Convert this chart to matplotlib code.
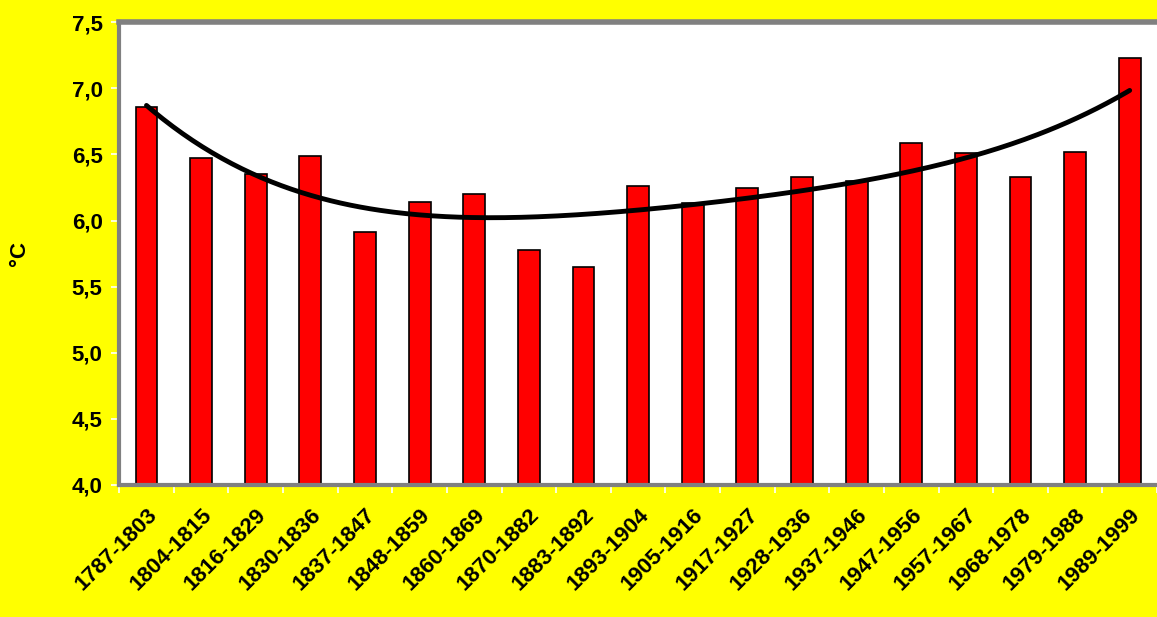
import matplotlib.pyplot as plt
import matplotlib.transforms as mtransforms
import numpy as np

plt.rcParams['font.family'] = ['Liberation Sans', 'DejaVu Sans']
plt.rcParams['font.weight'] = 'bold'

periods = ['1787-1803', '1804-1815', '1816-1829', '1830-1836', '1837-1847',
           '1848-1859', '1860-1869', '1870-1882', '1883-1892', '1893-1904',
           '1905-1916', '1917-1927', '1928-1936', '1937-1946', '1947-1956',
           '1957-1967', '1968-1978', '1979-1988', '1989-1999']
temps = [6.86, 6.47, 6.35, 6.49, 5.91, 6.14, 6.20, 5.78, 5.65, 6.26,
         6.13, 6.245, 6.33, 6.30, 6.585, 6.51, 6.33, 6.52, 7.23]

x = np.arange(len(periods))
# 4th order polynomial trend line (like the spreadsheet trendline)
coef = np.polyfit(x, temps, 4)
xs = np.linspace(0, len(periods) - 1, 300)
trend = np.polyval(coef, xs)

fig = plt.figure(figsize=(11.57, 6.17), dpi=100, facecolor='#ffff00')
ax = fig.add_axes([0.103, 0.214, 0.897, 0.750])
ax.set_facecolor('white')

ax.bar(x, temps, width=0.4, color='#ff0000', edgecolor='black', linewidth=1.2, zorder=2)
ax.plot(xs, trend, color='black', linewidth=3.5, solid_capstyle='round', zorder=3)

ax.set_ylim(4.0, 7.5)
ax.set_xlim(-0.5, len(periods) - 0.5)
ticks = np.arange(4.0, 7.51, 0.5)
ax.set_yticks(ticks)
ax.set_yticklabels([f'{t:.1f}'.replace('.', ',') for t in ticks], fontsize=16, fontweight='bold')
ax.set_xticks(x)
ax.set_xticklabels(periods, rotation=45, ha='right', rotation_mode='anchor',
                   fontsize=16, fontweight='bold')
shift = mtransforms.ScaledTranslation(-8 / 100, 0, fig.dpi_scale_trans)
for lab in ax.get_xticklabels():
    lab.set_transform(lab.get_transform() + shift)
ax.set_xticks(np.arange(-0.5, len(periods), 1), minor=True)
ax.tick_params(axis='x', which='major', length=0, pad=14)
ax.tick_params(axis='x', which='minor', length=6, color='white', width=1.2)
ax.tick_params(axis='y', length=6, color='white', width=1.2, pad=6)

ax.set_ylabel('°C', fontsize=16, fontweight='bold', labelpad=30)

for side in ['left', 'bottom']:
    ax.spines[side].set_color('#808080')
    ax.spines[side].set_linewidth(3)
ax.spines['top'].set_color('#808080')
ax.spines['top'].set_linewidth(4)
ax.spines['right'].set_visible(False)

plt.savefig('out.png', dpi=100, facecolor=fig.get_facecolor())
